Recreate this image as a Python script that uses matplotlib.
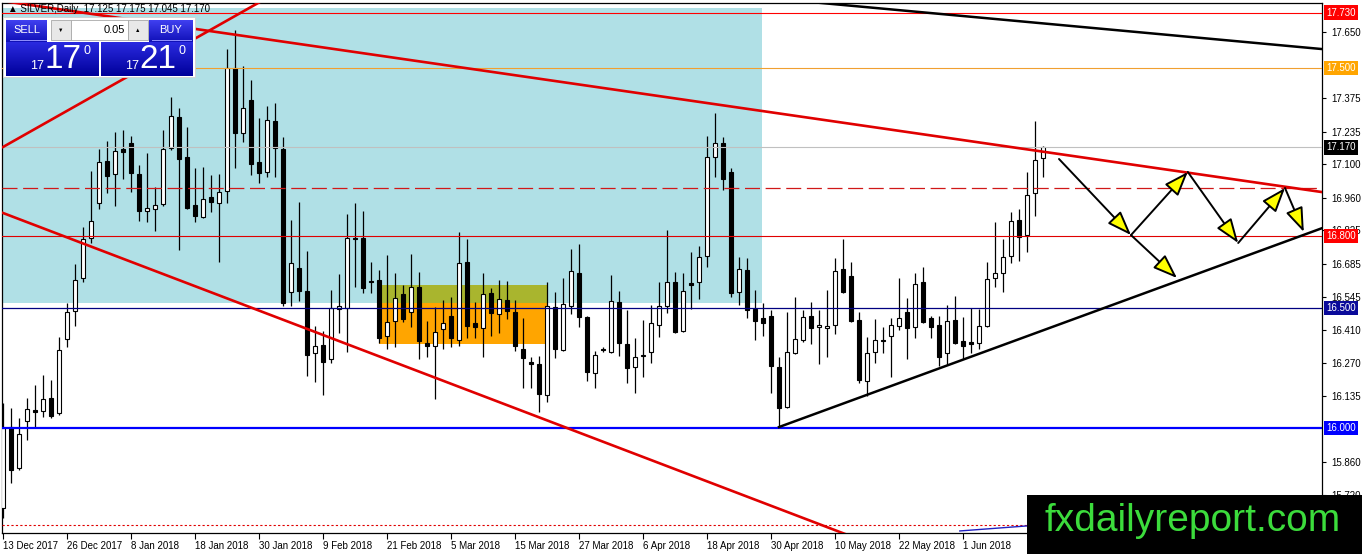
import matplotlib
matplotlib.use("Agg")
import matplotlib.pyplot as plt
import matplotlib.transforms as mtransforms
from matplotlib.patches import Rectangle
from matplotlib.colors import LinearSegmentedColormap
import numpy as np

plt.rcParams['font.family'] = ['Liberation Sans', 'DejaVu Sans']

# SILVER daily candles, 13 Dec 2017 .. 15 Jun 2018
opens = [15.667, 16.004, 15.833, 16.029, 16.075, 16.071, 16.125, 16.063, 16.371, 16.488,
         16.625, 16.792, 16.938, 17.113, 17.058, 17.163, 17.188, 17.058, 16.904, 16.913,
         16.933, 17.167, 17.296, 17.129, 16.929, 16.879, 16.963, 16.938, 16.988, 17.500,
         17.229, 17.367, 17.108, 17.067, 17.279, 17.163, 16.567, 16.667, 16.571, 16.313,
         16.346, 16.288, 16.496, 16.500, 16.792, 16.792, 16.613, 16.617, 16.383, 16.446,
         16.558, 16.483, 16.588, 16.354, 16.342, 16.413, 16.467, 16.367, 16.692, 16.438,
         16.417, 16.563, 16.475, 16.533, 16.483, 16.329, 16.275, 16.267, 16.138, 16.504,
         16.325, 16.508, 16.646, 16.463, 16.229, 16.329, 16.317, 16.525, 16.350, 16.254,
         16.300, 16.317, 16.429, 16.508, 16.608, 16.404, 16.604, 16.608, 16.717, 17.129,
         17.188, 17.067, 16.567, 16.658, 16.496, 16.458, 16.467, 16.254, 16.088, 16.313,
         16.367, 16.467, 16.421, 16.417, 16.429, 16.663, 16.633, 16.450, 16.196, 16.317,
         16.367, 16.383, 16.425, 16.483, 16.421, 16.608, 16.458, 16.429, 16.313, 16.450,
         16.363, 16.358, 16.354, 16.425, 16.625, 16.646, 16.717, 16.867, 16.804, 16.979,
         17.125]
highs = [16.104, 16.083, 16.042, 16.125, 16.180, 16.221, 16.200, 16.379, 16.521, 16.683,
         16.838, 17.071, 17.163, 17.196, 17.233, 17.242, 17.217, 17.096, 17.146, 17.004,
         17.242, 17.379, 17.333, 17.254, 17.083, 17.088, 17.054, 17.058, 17.579, 17.658,
         17.508, 17.450, 17.292, 17.342, 17.354, 17.213, 16.867, 16.942, 16.738, 16.425,
         16.404, 16.575, 16.642, 16.892, 16.938, 16.904, 16.692, 16.658, 16.721, 16.646,
         16.596, 16.725, 16.650, 16.446, 16.504, 16.533, 16.546, 16.817, 16.788, 16.525,
         16.646, 16.583, 16.617, 16.613, 16.533, 16.458, 16.296, 16.300, 16.608, 16.567,
         16.625, 16.746, 16.767, 16.467, 16.321, 16.338, 16.638, 16.571, 16.492, 16.375,
         16.450, 16.513, 16.608, 16.825, 16.650, 16.646, 16.733, 16.758, 17.217, 17.313,
         17.213, 17.083, 16.713, 16.708, 16.575, 16.521, 16.492, 16.296, 16.483, 16.546,
         16.492, 16.525, 16.492, 16.575, 16.708, 16.788, 16.692, 16.483, 16.379, 16.454,
         16.421, 16.458, 16.625, 16.542, 16.646, 16.671, 16.467, 16.467, 16.513, 16.550,
         16.463, 16.500, 16.496, 16.692, 16.858, 16.788, 16.900, 16.913, 17.067, 17.279,
         17.175]
lows = [15.625, 15.771, 15.825, 15.950, 16.000, 16.046, 16.042, 16.054, 16.338, 16.425,
        16.608, 16.771, 16.913, 16.979, 16.925, 17.038, 16.983, 16.863, 16.858, 16.821,
        16.925, 17.158, 16.742, 16.913, 16.858, 16.875, 16.900, 16.692, 16.938, 17.083,
        17.192, 17.054, 17.021, 17.046, 17.046, 16.508, 16.508, 16.529, 16.217, 16.192,
        16.138, 16.271, 16.396, 16.317, 16.588, 16.563, 16.563, 16.354, 16.329, 16.338,
        16.442, 16.421, 16.288, 16.296, 16.121, 16.329, 16.338, 16.342, 16.375, 16.375,
        16.296, 16.383, 16.396, 16.454, 16.321, 16.167, 16.167, 16.067, 16.108, 16.292,
        16.320, 16.475, 16.421, 16.196, 16.167, 16.317, 16.312, 16.300, 16.188, 16.146,
        16.213, 16.271, 16.379, 16.479, 16.396, 16.400, 16.496, 16.538, 16.671, 17.046,
        16.992, 16.546, 16.513, 16.458, 16.367, 16.383, 16.146, 16.004, 16.083, 16.308,
        16.358, 16.350, 16.267, 16.296, 16.392, 16.563, 16.442, 16.188, 16.133, 16.271,
        16.313, 16.213, 16.408, 16.288, 16.375, 16.438, 16.375, 16.258, 16.263, 16.350,
        16.288, 16.313, 16.329, 16.421, 16.588, 16.567, 16.688, 16.696, 16.733, 16.883,
        17.045]
closes = [16.000, 15.825, 15.975, 16.079, 16.067, 16.121, 16.050, 16.325, 16.483, 16.617,
          16.787, 16.863, 17.108, 17.050, 17.154, 17.150, 17.063, 16.904, 16.917, 16.929,
          17.163, 17.300, 17.121, 16.917, 16.883, 16.954, 16.942, 16.983, 17.500, 17.229,
          17.333, 17.100, 17.063, 17.283, 17.167, 16.521, 16.688, 16.571, 16.304, 16.342,
          16.275, 16.500, 16.508, 16.792, 16.788, 16.583, 16.608, 16.375, 16.442, 16.542,
          16.454, 16.588, 16.363, 16.342, 16.400, 16.438, 16.375, 16.688, 16.425, 16.421,
          16.558, 16.479, 16.538, 16.488, 16.342, 16.292, 16.267, 16.142, 16.508, 16.329,
          16.517, 16.654, 16.463, 16.233, 16.304, 16.325, 16.529, 16.354, 16.250, 16.296,
          16.304, 16.438, 16.508, 16.608, 16.400, 16.571, 16.596, 16.713, 17.129, 17.188,
          17.038, 16.563, 16.663, 16.492, 16.446, 16.438, 16.258, 16.083, 16.317, 16.371,
          16.463, 16.417, 16.429, 16.425, 16.654, 16.567, 16.446, 16.200, 16.313, 16.367,
          16.363, 16.429, 16.458, 16.417, 16.600, 16.442, 16.421, 16.296, 16.446, 16.354,
          16.342, 16.350, 16.425, 16.621, 16.646, 16.713, 16.863, 16.796, 16.971, 17.117,
          17.170]

date_labels = ['13 Dec 2017', '26 Dec 2017', '8 Jan 2018', '18 Jan 2018', '30 Jan 2018',
               '9 Feb 2018', '21 Feb 2018', '5 Mar 2018', '15 Mar 2018', '27 Mar 2018',
               '6 Apr 2018', '18 Apr 2018', '30 Apr 2018', '10 May 2018', '22 May 2018',
               '1 Jun 2018']
price_ticks = [17.650, 17.375, 17.235, 17.100, 16.960, 16.825, 16.685, 16.545,
               16.410, 16.270, 16.135, 15.860, 15.720]

# horizontal levels: price, line colour, label box colour, line width
levels = [17.730, 17.500, 17.170, 16.800, 16.500, 16.000]
level_line_colors = ['#ff0000', '#f0a030', '#c0c0c0', '#e00000', '#000080', '#0000ff']
level_box_colors = ['#ff0000', '#ffa500', '#000000', '#ff0000', '#0a0a9a', '#0000ff']
level_widths = [0.8, 0.8, 0.8, 0.8, 0.9, 1.6]
dashed_level = 17.0
ask_level = 15.596

# zones (bar index / price)
blue_zone = (-1, 94.9, 16.521, 17.75)
orange_zone = (47, 68, 16.35, 16.596)

# trend lines: (x0, y0, x1, y1) in bar index / price
red_lines = [(0, 17.779, 164.9, 16.983),
             (0, 17.171, 33, 17.792),
             (0, 16.896, 106, 15.549)]
black_lines = [(101, 17.775, 164.9, 17.579),
               (97, 16.004, 164.9, 16.833)]
blue_small = (119.6, 15.571, 128, 15.592)

# projected path arrows: (from, to)
arrow_pts = [((132.0, 17.121), (141.0, 16.804)),
             ((141.0, 16.804), (148.1, 17.067)),
             ((148.1, 17.067), (154.4, 16.771)),
             ((154.4, 16.771), (160.25, 17.0)),
             ((160.25, 17.0), (162.6, 16.817)),
             ((141.0, 16.804), (146.75, 16.625))]

W, H = 1362, 554
fig = plt.figure(figsize=(W / 100, H / 100), dpi=100)
ax = fig.add_axes([2 / W, 1 - 533 / H, 1320 / W, 530 / H])
ax.set_xlim(-0.125, 164.875)
ax.set_ylim(15.5625, 17.771)

# zones
bx0, bx1, by0, by1 = blue_zone
ax.add_patch(Rectangle((bx0, by0), bx1 - bx0, by1 - by0, fc='#b0e0e6', ec='none', zorder=0))
ox0, ox1, oy0, oy1 = orange_zone
ax.add_patch(Rectangle((ox0, oy0), ox1 - ox0, by0 - oy0, fc='#ffa500', ec='none', zorder=1))
ax.add_patch(Rectangle((ox0, by0), ox1 - ox0, oy1 - by0, fc='#a9b52e', ec='none', zorder=1))

# candles
x = np.arange(len(opens))
o = np.array(opens); c = np.array(closes)
ax.vlines(x, lows, highs, color='black', lw=0.9, zorder=3)
bottom = np.minimum(o, c)
height = np.maximum(np.abs(c - o), 0.003)
faces = ['white' if cc >= oo else 'black' for oo, cc in zip(o, c)]
ax.bar(x, height, bottom=bottom, width=0.62, color=faces, edgecolor='black',
       linewidth=0.8, zorder=4)

# levels
for p, lc, lw in zip(levels, level_line_colors, level_widths):
    ax.axhline(p, color=lc, lw=lw, zorder=5)
ax.axhline(dashed_level, color='#d01818', lw=0.9, ls=(0, (12, 4.5)), zorder=5)
ax.axhline(ask_level, color='#e00000', lw=0.8, ls=(0, (2, 2)), zorder=5)

for x0, y0, x1, y1 in red_lines:
    ax.plot([x0, x1], [y0, y1], color='#e00000', lw=1.9, zorder=6)
for x0, y0, x1, y1 in black_lines:
    ax.plot([x0, x1], [y0, y1], color='black', lw=1.8, zorder=6)
ax.plot([blue_small[0], blue_small[2]], [blue_small[1], blue_small[3]], color='#2020c0', lw=1, zorder=6)

for start, end in arrow_pts:
    ax.annotate('', xy=end, xytext=start, zorder=7,
                arrowprops=dict(arrowstyle='-|>,head_length=1.5,head_width=0.55',
                                fc='yellow', ec='black', lw=1.4, shrinkA=0, shrinkB=0))

# axes styling
ax.set_xticks(range(0, 8 * len(date_labels), 8))
ax.set_xticklabels(date_labels)
for lbl in ax.get_xticklabels():
    lbl.set_ha('left')
ax.tick_params(axis='x', length=4, pad=2, labelsize=7)
ax.yaxis.tick_right()
ax.set_yticks(price_ticks)
ax.set_yticklabels([f'{p:.3f}' for p in price_ticks])
ax.tick_params(axis='y', length=3, pad=4, labelsize=7)
for s in ax.spines.values():
    s.set_linewidth(0.9)

trans = mtransforms.blended_transform_factory(ax.transAxes, ax.transData)
for p, bc in zip(levels, level_box_colors):
    ax.text(1 + 4 / 1320, p, f'{p:.3f}', transform=trans, color='white', fontsize=7,
            ha='left', va='center', clip_on=False, zorder=10,
            bbox=dict(boxstyle='square,pad=0.25', fc=bc, ec='none'))

# overlay in pixel coordinates for the trade panel and the watermark
ov = fig.add_axes([0, 0, 1, 1], zorder=20)
ov.patch.set_alpha(0)
ov.axis('off')

ov.text(8, 9, '\u25b2 SILVER,Daily  17.125 17.175 17.045 17.170', fontsize=7,
        va='center', ha='left', zorder=1)


def grad_box(x0, y0, w, h, top, bot):
    cmap = LinearSegmentedColormap.from_list('g', [top, bot])
    ov.imshow(np.linspace(0, 1, 64).reshape(-1, 1), extent=[x0, x0 + w, y0 + h, y0],
              cmap=cmap, aspect='auto', zorder=3)


ov.add_patch(Rectangle((3, 17), 192, 60, fc='white', ec='#d0d0d0', lw=0.6, zorder=2))
grad_box(6, 20, 41, 22, '#4040f0', '#1010b8')
grad_box(149, 20, 44, 22, '#4040f0', '#1010b8')
grad_box(6, 42, 93, 34, '#2a2ae0', '#00009a')
grad_box(101, 42, 92, 34, '#2a2ae0', '#00009a')
ov.plot([10, 46], [40, 40], color='#9090ff', lw=0.7, zorder=4)
ov.plot([152, 191], [40, 40], color='#9090ff', lw=0.7, zorder=4)
ov.add_patch(Rectangle((51, 20), 20, 20, fc='#e8e8e8', ec='#a8a8a8', lw=0.6, zorder=3))
ov.add_patch(Rectangle((71, 20), 57, 20, fc='white', ec='#a8a8a8', lw=0.6, zorder=3))
ov.add_patch(Rectangle((128, 20), 20, 20, fc='#e8e8e8', ec='#a8a8a8', lw=0.6, zorder=3))
ov.text(61, 30, '\u25bc', fontsize=4, ha='center', va='center', zorder=5)
ov.text(138, 30, '\u25b2', fontsize=4, ha='center', va='center', zorder=5)
ov.text(125, 30, '0.05', fontsize=8, ha='right', va='center', zorder=5)
ov.text(27, 30, 'SELL', fontsize=8, color='white', ha='center', va='center', zorder=5)
ov.text(171, 30, 'BUY', fontsize=8, color='white', ha='center', va='center', zorder=5)
for bx, small, big in [(0, '17', '17'), (95, '17', '21')]:
    ov.text(37 + bx, 66, small, fontsize=9, color='white', ha='center', va='center', zorder=5)
    ov.text(63 + bx, 59, big, fontsize=24, color='white', ha='center', va='center', zorder=5)
    ov.text(87 + bx, 51, '0', fontsize=9, color='white', ha='center', va='center', zorder=5)

ov.add_patch(Rectangle((1027, 495), 335, 59, fc='black', ec='none', zorder=5))
ov.text(1193, 521, 'fxdailyreport.com', fontsize=28, color='#3cdc3c',
        ha='center', va='center', zorder=6)

ov.set_xlim(0, W)
ov.set_ylim(H, 0)

fig.savefig('out.png', dpi=100)
